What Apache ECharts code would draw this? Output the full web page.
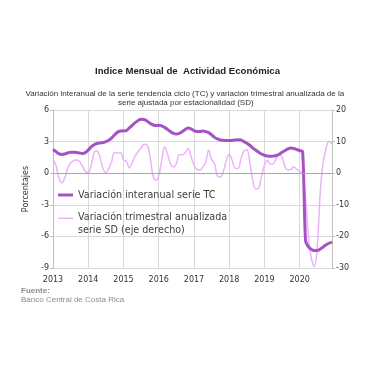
<!DOCTYPE html>
<html>
<head>
<meta charset="utf-8">
<script src="https://cdn.jsdelivr.net/npm/echarts@6/dist/echarts.min.js"></script>
<style>
html,body{margin:0;padding:0;background:#fff;}
#c{width:380px;height:380px;}
</style>
</head>
<body>
<div id="c"></div>
<script>
// Months Jan 2013 .. Dec 2020
const years = [2013, 2014, 2015, 2016, 2017, 2018, 2019, 2020];
const months = [];
years.forEach(y => { for (let m = 1; m <= 12; m++) months.push(y + '-' + (m < 10 ? '0' + m : m)); });

// Variación interanual serie TC (left axis, %)
const serieTC = [
  2.25, 2.05, 1.85, 1.78, 1.82, 1.92, 2.0, 2.0, 1.97, 1.92, 1.88, 1.95,
  2.2, 2.5, 2.7, 2.82, 2.87, 2.9, 3.0, 3.12, 3.35, 3.65, 3.9, 4.0,
  4.02, 4.05, 4.3, 4.55, 4.8, 5.0, 5.12, 5.1, 4.95, 4.75, 4.6, 4.52,
  4.55, 4.5, 4.35, 4.15, 3.95, 3.78, 3.72, 3.78, 3.95, 4.15, 4.28, 4.2,
  4.05, 3.97, 3.97, 4.0, 3.95, 3.85, 3.65, 3.4, 3.25, 3.15, 3.12, 3.1,
  3.1, 3.12, 3.15, 3.17, 3.15, 3.0, 2.85, 2.65, 2.4, 2.2, 2.0, 1.82,
  1.7, 1.63, 1.6, 1.62, 1.68, 1.8, 1.98, 2.15, 2.3, 2.4, 2.35, 2.25,
  2.15, 2.05, -6.4, -7.0, -7.25, -7.35, -7.35, -7.2, -7.0, -6.8, -6.65, -6.55
];

// Variación trimestral anualizada serie SD (right axis, %)
const serieSD = [
  4.3, 2.5, -1.5, -3.0, -1.5, 1.5, 3.3, 4.0, 4.2, 3.8, 2.3, 0.6,
  0.1, 2.5, 6.5, 7.0, 5.0, 1.5, 0.2, 1.5, 3.8, 6.6, 6.3, 6.5,
  4.2, 3.8, 1.7, 3.4, 5.5, 6.8, 8.0, 9.2, 9.0, 5.5, -0.5, -2.2,
  -0.8, 4.0, 8.3, 6.0, 3.0, 2.0, 3.0, 5.8, 5.8, 6.5, 7.8, 5.3,
  2.5, 1.2, 0.9, 2.0, 3.5, 7.3, 4.3, 3.1, -1.0, -1.2, 0.5, 4.0,
  6.0, 4.0, 1.6, 1.5, 4.5, 7.0, 7.4, 3.5, -2.2, -5.0, -4.8, -1.0,
  2.5, 4.1, 2.8, 3.0, 4.5, 5.8, 5.0, 2.0, 1.0, 1.2, 2.0, 1.2,
  0.6, -0.3, -8.0, -20.0, -27.0, -29.5, -23.0, -6.0, 3.5, 8.0, 10.0, 9.3
];

const nameTC = 'Variación interanual serie TC';
const nameSD = 'Variación trimestral anualizada\nserie SD (eje derecho)';
const leftTicks = { min: -9, max: 6, interval: 3 };
const rightTicks = { min: -30, max: 20, interval: 10 };

const chart = echarts.init(document.getElementById('c'), null, { renderer: 'canvas' });
const isJan = (i) => i % 12 === 0;
const axisFont = 'DejaVu Sans';
const subStyle = { fontFamily: 'Liberation Sans', fontWeight: 'normal', fontSize: 8, color: '#333' };
const srcStyle = { fontFamily: 'Liberation Sans', fontSize: 8, color: '#8c8c8c' };

chart.setOption({
  animation: false,
  backgroundColor: '#fff',
  title: [{
    text: 'Indice Mensual de  Actividad Económica',
    left: 90, top: 61.8,
    textStyle: { fontFamily: 'Liberation Sans', fontWeight: 'bold', fontSize: 9.6, color: '#222' }
  }, {
    text: 'Variación interanual de la serie tendencia ciclo (TC) y variación trimestral anualizada de la',
    left: 20.5, top: 84.3, textStyle: subStyle
  }, {
    text: 'serie ajustada por estacionalidad (SD)',
    left: 113, top: 93.3, textStyle: subStyle
  }, {
    text: 'Fuente:',
    left: 16, top: 281.3,
    textStyle: Object.assign({ fontWeight: 'bold' }, srcStyle)
  }, {
    text: 'Banco Central de Costa Rica',
    left: 16, top: 290.7,
    textStyle: Object.assign({ fontWeight: 'normal' }, srcStyle)
  }],
  legend: [{
    data: [{ name: nameTC, icon: 'rect' }],
    orient: 'vertical', left: 58, top: 190, padding: 0,
    itemWidth: 15, itemHeight: 3,
    textStyle: { fontFamily: axisFont, fontSize: 9.6, color: '#404040' }
  }, {
    data: [{ name: nameSD, icon: 'path://M0,0L0.01,0L0.01,0.01L0,0.01Z M0,5.7L16,5.7L16,7.3L0,7.3Z M15.99,25.99L16,25.99L16,26L15.99,26Z' }],
    orient: 'vertical', left: 58, top: 211.3, padding: 0,
    itemWidth: 15, itemHeight: 26,
    textStyle: { fontFamily: axisFont, fontSize: 9.6, lineHeight: 13, color: '#404040' }
  }],
  grid: { left: 53, right: 48, top: 110, bottom: 112, containLabel: false },
  xAxis: {
    type: 'category', data: months, boundaryGap: false,
    axisLine: { show: true, lineStyle: { color: '#bfbfbf' } },
    axisTick: { show: false },
    axisLabel: {
      interval: (i) => isJan(i), formatter: (v) => v.slice(0, 4),
      fontFamily: axisFont, fontSize: 8, color: '#333', margin: 8
    },
    splitLine: { show: true, interval: (i) => isJan(i), lineStyle: { color: '#d9d9d9' } }
  },
  yAxis: [{
    type: 'value', min: leftTicks.min, max: leftTicks.max, interval: leftTicks.interval,
    name: 'Porcentajes', nameLocation: 'middle', nameGap: 22, nameRotate: 90,
    nameTextStyle: { fontFamily: axisFont, fontSize: 8, color: '#333' },
    axisLine: { show: true, lineStyle: { color: '#bfbfbf' } },
    axisTick: { show: true, length: 3, lineStyle: { color: '#bfbfbf' } },
    axisLabel: { fontFamily: axisFont, fontSize: 8, color: '#333', margin: 4 },
    splitLine: { show: true, lineStyle: { color: '#d9d9d9' } }
  }, {
    type: 'value', min: rightTicks.min, max: rightTicks.max, interval: rightTicks.interval,
    position: 'right',
    axisLine: { show: true, lineStyle: { color: '#bfbfbf' } },
    axisTick: { show: true, length: 3, lineStyle: { color: '#bfbfbf' } },
    axisLabel: { fontFamily: axisFont, fontSize: 8, color: '#333', margin: 4 },
    splitLine: { show: false }
  }],
  series: [{
    name: nameSD, type: 'line', yAxisIndex: 1, data: serieSD,
    symbol: 'none', smooth: 0.4,
    lineStyle: { color: '#ebb3f8', width: 1.5 }, itemStyle: { color: '#ebb3f8' },
    z: 2
  }, {
    name: nameTC, type: 'line', yAxisIndex: 0, data: serieTC,
    symbol: 'none', smooth: 0.3,
    lineStyle: { color: '#a552c4', width: 3 }, itemStyle: { color: '#a552c4' },
    markLine: {
      silent: true, symbol: 'none', label: { show: false },
      lineStyle: { color: '#a6a6a6', width: 1, type: 'solid' },
      data: [{ yAxis: 0 }]
    },
    z: 3
  }]
});
</script>
</body>
</html>
